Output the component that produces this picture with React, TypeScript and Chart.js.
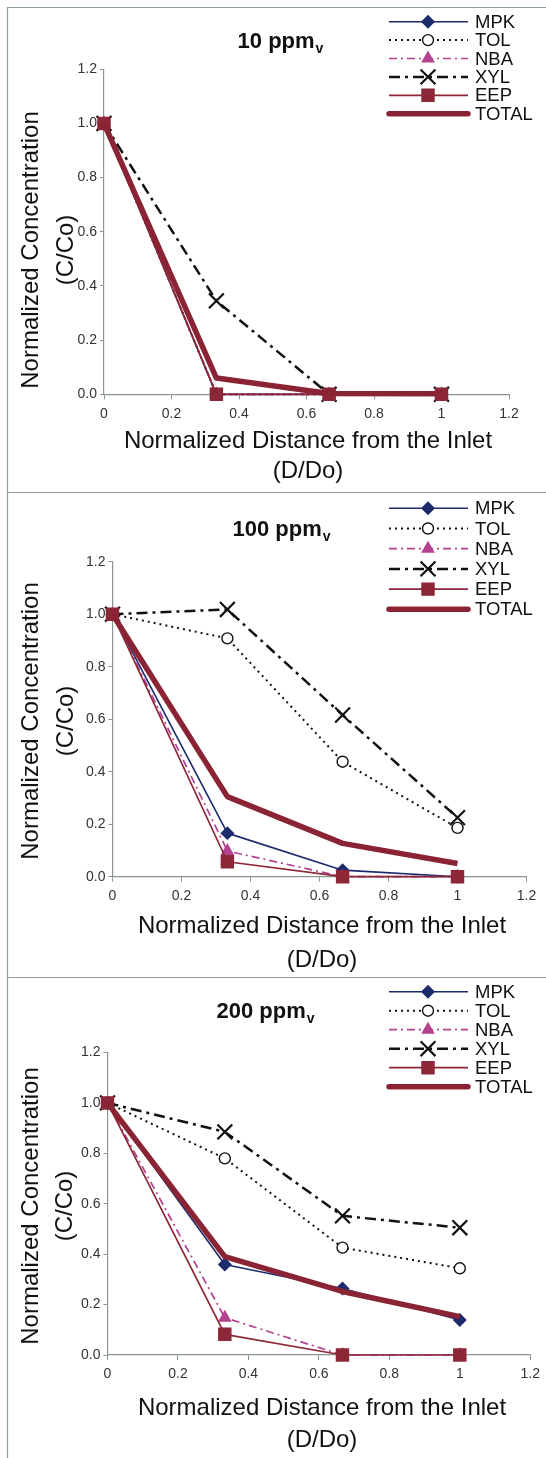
import React, { useEffect, useRef } from 'react';
import { Chart, registerables } from 'chart.js';

Chart.register(...registerables);

const FONT = '"Liberation Sans", Arial, Helvetica, sans-serif';

// ---------- data ----------
const distances = [0, 0.333, 0.667, 1];
const seriesNames = ['MPK', 'TOL', 'NBA', 'XYL', 'EEP', 'TOTAL'];
const xTickValues = [0, 0.2, 0.4, 0.6, 0.8, 1, 1.2];
const yTickValues = [0, 0.2, 0.4, 0.6, 0.8, 1.0, 1.2];
const panelTitles = ['10 ppm', '100 ppm', '200 ppm'];
const titleSubscript = 'v';
const xAxisTitle = ['Normalized Distance from the Inlet', '(D/Do)'];
const yAxisTitle = ['Normalized Concentration', '(C/Co)'];

// 10 ppmv
const mpk10 = [1, 0, 0, 0];
const tol10 = [1, 0, 0, 0];
const nba10 = [1, 0, 0, 0];
const xyl10 = [1, 0.345, 0, 0];
const eep10 = [1, 0, 0, 0];
const total10 = [1, 0.06, 0.003, 0.002];

// 100 ppmv
const mpk100 = [1, 0.166, 0.025, 0];
const tol100 = [1, 0.908, 0.438, 0.186];
const nba100 = [1, 0.098, 0, 0];
const xyl100 = [1, 1.018, 0.616, 0.225];
const eep100 = [1, 0.057, 0, 0];
const total100 = [1, 0.305, 0.127, 0.05];

// 200 ppmv
const mpk200 = [1, 0.359, 0.264, 0.139];
const tol200 = [1, 0.78, 0.426, 0.344];
const nba200 = [1, 0.148, 0, 0];
const xyl200 = [1, 0.885, 0.552, 0.505];
const eep200 = [1, 0.082, 0, 0];
const total200 = [1, 0.39, 0.252, 0.152];

// ---------- styles ----------
type SeriesStyle = {
  color: string;
  width: number;
  dash: number[];
  marker: string;
  radius: number;
  fill: string;
  order: number;
};

const STYLES: SeriesStyle[] = [
  { color: '#1c2b6c', width: 1.6, dash: [], marker: 'rectRot', radius: 6, fill: '#1c2b6c', order: 5 },
  { color: '#111111', width: 2, dash: [2, 4], marker: 'circle', radius: 5.5, fill: '#ffffff', order: 4 },
  { color: '#b4428f', width: 1.7, dash: [8, 4, 2, 4], marker: 'triangle', radius: 6.5, fill: '#b4428f', order: 3 },
  { color: '#111111', width: 2.5, dash: [11, 5, 3, 5], marker: 'crossRot', radius: 10.5, fill: '#111111', order: 2 },
  { color: '#8c2738', width: 1.7, dash: [], marker: 'rect', radius: 8.5, fill: '#8c2738', order: 1 },
  { color: '#8a2434', width: 5.5, dash: [], marker: 'none', radius: 0, fill: '#8a2434', order: 0 },
];

const FRAME_COLOR = '#8e9e9a';
const AXIS_COLOR = '#8a9692';

type PanelCfg = {
  top: number;
  height: number;
  plotLeft: number;
  plotRight: number;
  plotTop: number;
  plotBottom: number;
  title: string;
  titleX: number;
  titleY: number;
  legendY: number;
  legendStep: number;
  xTitleX: number;
  xTitleY1: number;
  xTitleY2: number;
  yTitleX1: number;
  yTitleX2: number;
  yTitleY: number;
  values: number[][];
};

const PANELS: PanelCfg[] = [
  {
    top: 7, height: 485,
    plotLeft: 104, plotRight: 509, plotTop: 62.3, plotBottom: 387.3,
    title: panelTitles[0], titleX: 280, titleY: 34.7,
    legendY: 14.7, legendStep: 18.4,
    xTitleX: 308, xTitleY1: 434.7, xTitleY2: 464.7,
    yTitleX1: 31, yTitleX2: 66, yTitleY: 243,
    values: [mpk10, tol10, nba10, xyl10, eep10, total10],
  },
  {
    top: 492, height: 485,
    plotLeft: 112.5, plotRight: 526.5, plotTop: 69.7, plotBottom: 384.7,
    title: panelTitles[1], titleX: 281, titleY: 38,
    legendY: 16.3, legendStep: 20.2,
    xTitleX: 322, xTitleY1: 434.7, xTitleY2: 468,
    yTitleX1: 31, yTitleX2: 66, yTitleY: 229,
    values: [mpk100, tol100, nba100, xyl100, eep100, total100],
  },
  {
    top: 977, height: 481,
    plotLeft: 107.5, plotRight: 532.5, plotTop: 75.5, plotBottom: 378,
    title: panelTitles[2], titleX: 265, titleY: 34.7,
    legendY: 14.7, legendStep: 19,
    xTitleX: 322, xTitleY1: 431, xTitleY2: 463,
    yTitleX1: 31, yTitleX2: 65, yTitleY: 229,
    values: [mpk200, tol200, nba200, xyl200, eep200, total200],
  },
];

function drawMarker(ctx: CanvasRenderingContext2D, st: SeriesStyle, x: number, y: number) {
  const r = st.radius;
  ctx.save();
  ctx.setLineDash([]);
  ctx.strokeStyle = st.color;
  ctx.fillStyle = st.fill;
  ctx.lineWidth = st.marker === 'crossRot' ? 2.2 : 1.4;
  ctx.beginPath();
  if (st.marker === 'rectRot') {
    ctx.moveTo(x - r, y);
    ctx.lineTo(x, y - r);
    ctx.lineTo(x + r, y);
    ctx.lineTo(x, y + r);
    ctx.closePath();
    ctx.fill();
    ctx.stroke();
  } else if (st.marker === 'circle') {
    ctx.arc(x, y, r, 0, Math.PI * 2);
    ctx.fill();
    ctx.stroke();
  } else if (st.marker === 'triangle') {
    const a = -Math.PI / 2;
    for (let i = 0; i < 3; i++) {
      const t = a + (i * 2 * Math.PI) / 3;
      const px = x + Math.cos(t) * r;
      const py = y + Math.sin(t) * r;
      if (i === 0) ctx.moveTo(px, py);
      else ctx.lineTo(px, py);
    }
    ctx.closePath();
    ctx.fill();
    ctx.stroke();
  } else if (st.marker === 'crossRot') {
    const d = Math.SQRT1_2 * r;
    ctx.moveTo(x - d, y - d);
    ctx.lineTo(x + d, y + d);
    ctx.moveTo(x - d, y + d);
    ctx.lineTo(x + d, y - d);
    ctx.stroke();
  } else if (st.marker === 'rect') {
    const s = Math.SQRT1_2 * r;
    ctx.rect(x - s, y - s, 2 * s, 2 * s);
    ctx.fill();
    ctx.stroke();
  }
  ctx.restore();
}

function makeDecorPlugin(cfg: PanelCfg) {
  return {
    id: 'decor',
    beforeDraw(chart: any) {
      const ctx: CanvasRenderingContext2D = chart.ctx;
      ctx.save();
      ctx.fillStyle = '#ffffff';
      ctx.fillRect(0, 0, chart.width, chart.height);
      ctx.strokeStyle = FRAME_COLOR;
      ctx.lineWidth = 1.2;
      ctx.beginPath();
      ctx.moveTo(7.5, 0.5);
      ctx.lineTo(chart.width, 0.5);
      ctx.moveTo(7.5, 0);
      ctx.lineTo(7.5, chart.height);
      ctx.stroke();
      ctx.restore();
    },
    afterDraw(chart: any) {
      const ctx: CanvasRenderingContext2D = chart.ctx;
      ctx.save();
      ctx.fillStyle = '#111111';
      // title with subscript
      ctx.textBaseline = 'middle';
      ctx.textAlign = 'left';
      ctx.font = `bold 22px ${FONT}`;
      const mainW = ctx.measureText(cfg.title).width;
      ctx.font = `bold 14px ${FONT}`;
      const subW = ctx.measureText(titleSubscript).width;
      const startX = cfg.titleX - (mainW + subW) / 2;
      ctx.font = `bold 22px ${FONT}`;
      ctx.fillText(cfg.title, startX, cfg.titleY);
      ctx.font = `bold 14px ${FONT}`;
      ctx.fillText(titleSubscript, startX + mainW + 1, cfg.titleY + 7);

      // x axis title
      ctx.font = `24px ${FONT}`;
      ctx.textAlign = 'center';
      ctx.fillText(xAxisTitle[0], cfg.xTitleX, cfg.xTitleY1);
      ctx.fillText(xAxisTitle[1], cfg.xTitleX, cfg.xTitleY2);

      // y axis title
      ctx.save();
      ctx.translate(cfg.yTitleX1, cfg.yTitleY);
      ctx.rotate(-Math.PI / 2);
      ctx.fillText(yAxisTitle[0], 0, 0);
      ctx.restore();
      ctx.save();
      ctx.translate(cfg.yTitleX2, cfg.yTitleY);
      ctx.rotate(-Math.PI / 2);
      ctx.fillText(yAxisTitle[1], 0, 0);
      ctx.restore();

      // legend
      const x1 = 389;
      const x2 = 468;
      const mx = 428;
      seriesNames.forEach((name, i) => {
        const st = STYLES[i];
        const y = cfg.legendY + i * cfg.legendStep;
        ctx.save();
        ctx.strokeStyle = st.color;
        ctx.lineWidth = st.width;
        ctx.setLineDash(st.dash);
        ctx.lineCap = st.marker === 'none' ? 'round' : 'butt';
        ctx.beginPath();
        ctx.moveTo(x1, y);
        ctx.lineTo(x2, y);
        ctx.stroke();
        ctx.restore();
        if (st.marker !== 'none') drawMarker(ctx, st, mx, y);
        ctx.fillStyle = '#111111';
        ctx.font = `18.5px ${FONT}`;
        ctx.textAlign = 'left';
        ctx.textBaseline = 'middle';
        ctx.fillText(name, 475, y + 1);
      });
      ctx.restore();
    },
  };
}

function Panel({ cfg }: { cfg: PanelCfg }) {
  const ref = useRef<HTMLCanvasElement | null>(null);
  useEffect(() => {
    if (!ref.current) return;
    const W = 546;
    const datasets = seriesNames.map((name, i) => {
      const st = STYLES[i];
      return {
        label: name,
        data: distances.map((d, j) => ({ x: d, y: cfg.values[i][j] })),
        borderColor: st.color,
        backgroundColor: st.fill,
        borderWidth: st.width,
        borderDash: st.dash,
        borderJoinStyle: 'round' as const,
        pointStyle: st.marker === 'none' ? false : (st.marker as any),
        pointRadius: st.marker === 'none' ? 0 : st.radius,
        pointBorderWidth: st.marker === 'crossRot' ? 2.2 : 1.4,
        pointBorderColor: st.color,
        pointBackgroundColor: st.fill,
        tension: 0,
        fill: false,
        clip: false as any,
        order: st.order,
      };
    });
    const chart = new Chart(ref.current, {
      type: 'line',
      data: { datasets },
      plugins: [makeDecorPlugin(cfg)],
      options: {
        animation: false,
        responsive: false,
        maintainAspectRatio: false,
        layout: {
          padding: { left: 0, right: W - cfg.plotRight, top: cfg.plotTop, bottom: 0 },
        },
        plugins: {
          legend: { display: false },
          tooltip: { enabled: false },
          title: { display: false },
        },
        scales: {
          x: {
            type: 'linear',
            min: 0,
            max: 1.2,
            afterBuildTicks: (s: any) => {
              s.ticks = xTickValues.map((v) => ({ value: v }));
            },
            afterFit: (s: any) => {
              s.height = cfg.height - cfg.plotBottom;
            },
            ticks: {
              autoSkip: false,
              maxRotation: 0,
              padding: 6,
              color: '#333333',
              font: { family: FONT, size: 14 },
              callback: (v: any) => String(Number(v)),
            },
            grid: {
              display: true,
              drawOnChartArea: false,
              drawTicks: true,
              tickLength: 5,
              color: AXIS_COLOR,
              lineWidth: 1,
            },
            border: { display: true, color: AXIS_COLOR, width: 1.2 },
          },
          y: {
            type: 'linear',
            min: 0,
            max: 1.2,
            afterBuildTicks: (s: any) => {
              s.ticks = yTickValues.map((v) => ({ value: v }));
            },
            afterFit: (s: any) => {
              s.width = cfg.plotLeft;
            },
            ticks: {
              autoSkip: false,
              padding: 3,
              color: '#333333',
              font: { family: FONT, size: 14 },
              callback: (v: any) => Number(v).toFixed(1),
            },
            grid: {
              display: true,
              drawOnChartArea: false,
              drawTicks: true,
              tickLength: 4,
              color: AXIS_COLOR,
              lineWidth: 1,
            },
            border: { display: true, color: AXIS_COLOR, width: 1.2 },
          },
        },
      } as any,
    });
    return () => chart.destroy();
  }, [cfg]);
  return (
    <canvas
      ref={ref}
      width={546}
      height={cfg.height}
      style={{ position: 'absolute', left: 0, top: cfg.top, width: 546, height: cfg.height, display: 'block' }}
    />
  );
}

export default function App() {
  return (
    <div style={{ position: 'absolute', left: 0, top: 0, width: 546, height: 1458, background: '#ffffff' }}>
      {PANELS.map((p, i) => (
        <Panel key={i} cfg={p} />
      ))}
    </div>
  );
}
